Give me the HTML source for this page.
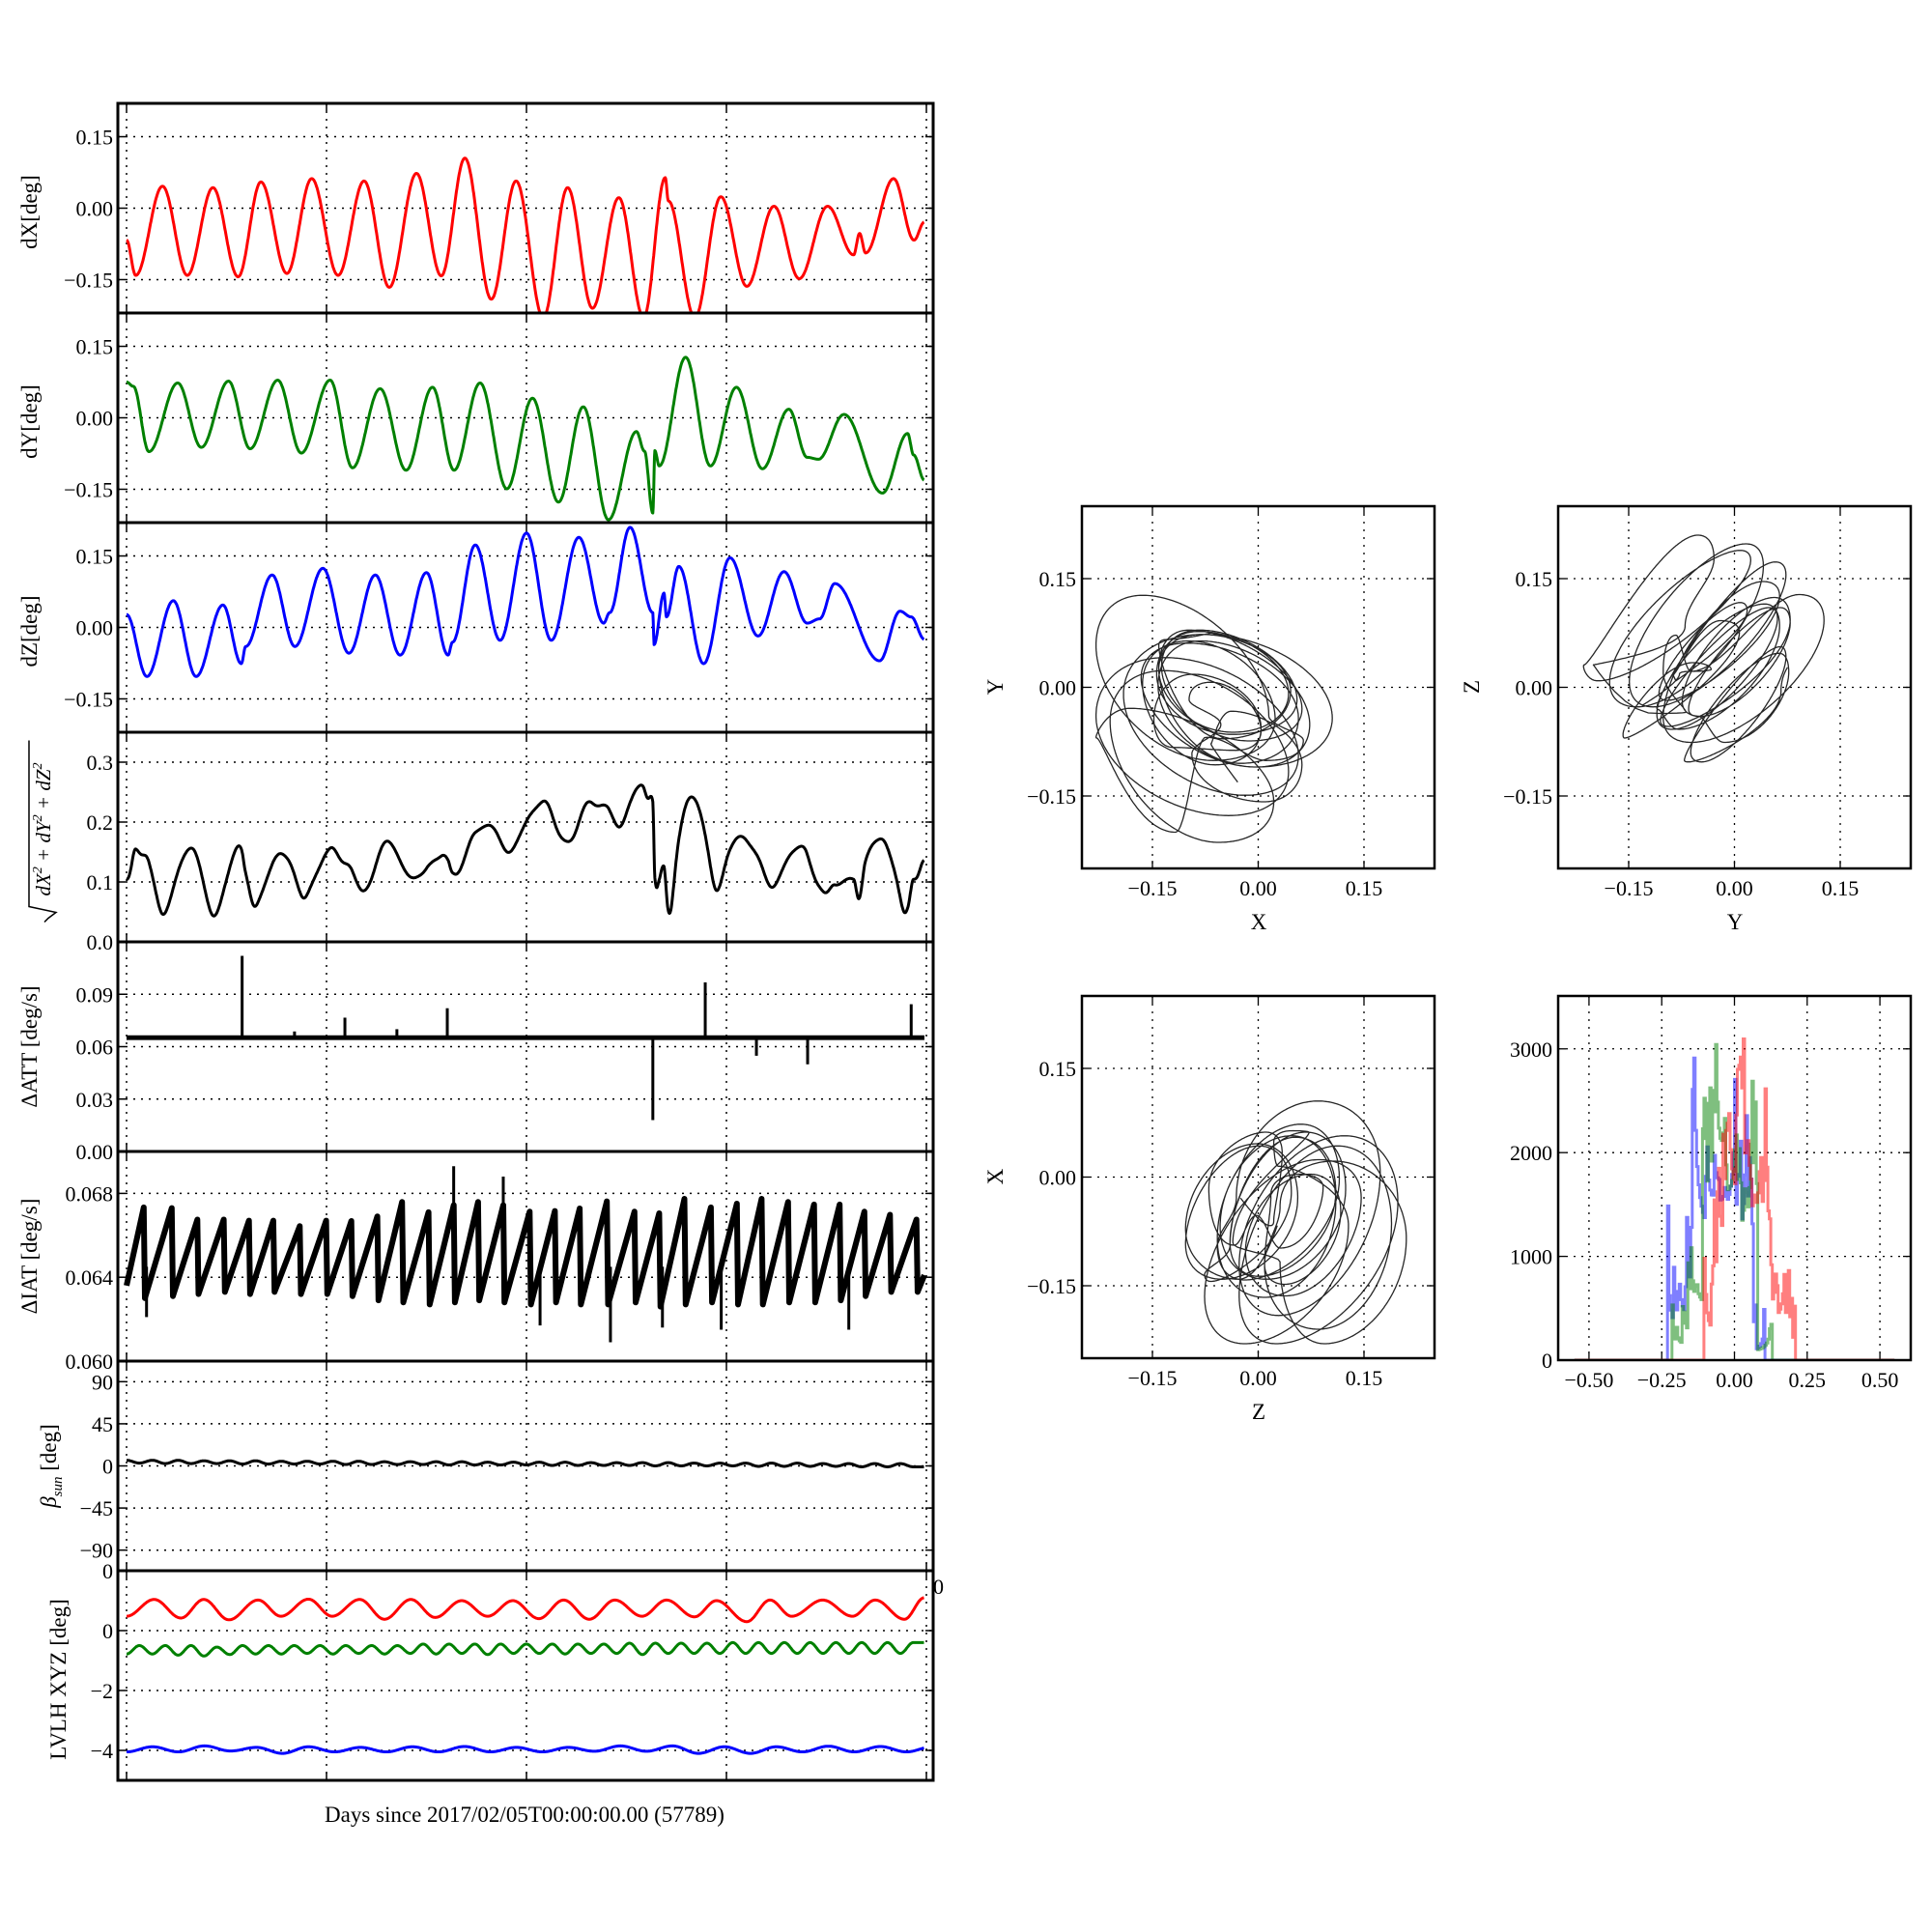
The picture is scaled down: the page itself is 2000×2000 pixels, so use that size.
<!DOCTYPE html>
<html><head><meta charset="utf-8"><title>Attitude diagnostics</title>
<style>
html,body{margin:0;padding:0;background:#fff;}
svg{display:block;font-family:"Liberation Serif","DejaVu Serif",serif;}
</style></head>
<body>
<svg id="fig" width="2000" height="2000" viewBox="0 0 2000 2000" xmlns="http://www.w3.org/2000/svg">
<rect x="0" y="0" width="2000" height="2000" fill="#fff"/>
<text x="543" y="1886" font-size="23" text-anchor="middle">Days since 2017/02/05T00:00:00.00 (57789)</text>
</svg>
<script>
// ---------------- DATA ----------------
const dxT=[0,0.23,0.9,1.52,2.16,2.79,3.36,4.01,4.63,5.29,5.94,6.57,7.25,7.87,8.46,9.12,9.74,10.42,11.03,11.65,12.31,12.93,13.47,13.55,14.21,14.86,15.51,16.19,16.82,17.53,18.18,18.33,18.48,19.18,19.69,19.95];
const dxV=[-0.067,-0.141,0.046,-0.141,0.043,-0.144,0.055,-0.137,0.062,-0.141,0.057,-0.166,0.073,-0.142,0.105,-0.191,0.057,-0.23,0.043,-0.21,0.022,-0.23,0.064,0.015,-0.23,0.024,-0.164,0.004,-0.148,0.004,-0.098,-0.053,-0.094,0.062,-0.067,-0.029];
const dyT=[0,0.17,0.56,1.28,1.87,2.55,3.09,3.78,4.37,5.09,5.65,6.34,6.99,7.65,8.19,8.84,9.51,10.15,10.8,11.42,12.05,12.75,12.95,13.16,13.21,13.32,13.98,14.6,15.25,15.9,16.56,17.02,17.3,17.94,18.9,19.53,19.68,19.95];
const dyV=[0.075,0.066,-0.071,0.073,-0.062,0.077,-0.065,0.079,-0.074,0.079,-0.105,0.061,-0.11,0.064,-0.11,0.073,-0.149,0.041,-0.177,0.023,-0.214,-0.029,-0.07,-0.2,-0.069,-0.101,0.127,-0.101,0.064,-0.107,0.018,-0.083,-0.087,0.007,-0.158,-0.033,-0.078,-0.131];
const dzT=[0,0.51,1.17,1.74,2.41,2.87,2.98,3.64,4.21,4.91,5.56,6.22,6.84,7.5,8.04,8.15,8.72,9.34,10.0,10.62,11.31,11.93,12.08,12.59,13.16,13.19,13.44,13.5,13.81,14.43,15.09,15.79,16.44,17.02,17.33,17.71,18.83,19.34,19.62,19.95];
const dzV=[0.027,-0.103,0.056,-0.103,0.047,-0.076,-0.04,0.11,-0.04,0.124,-0.054,0.11,-0.058,0.115,-0.058,-0.031,0.173,-0.027,0.198,-0.027,0.189,0.009,0.031,0.21,0.031,-0.036,0.072,0.022,0.128,-0.076,0.146,-0.018,0.117,0.009,0.018,0.092,-0.07,0.034,0.022,-0.025];
const attBase=[0.0638,0.0665];
const attSpikeT=[2.89,4.2,5.46,6.76,8.02,13.16,14.47,15.75,17.03,19.62];
const attSpikeV=[0.112,0.0687,0.0766,0.070,0.082,0.018,0.0968,0.0548,0.0499,0.0843];
const iatPeakT=[0.43,1.13,1.77,2.43,3.06,3.67,4.33,4.99,5.62,6.27,6.89,7.55,8.18,8.79,9.42,10.08,10.71,11.33,12.01,12.7,13.32,13.95,14.61,15.26,15.88,16.54,17.19,17.83,18.45,19.09,19.75];
const iatPeak=[0.06733,0.0673,0.06675,0.06675,0.0667,0.0667,0.06644,0.0667,0.06668,0.0669,0.06759,0.0671,0.06744,0.06759,0.06744,0.06713,0.06716,0.06728,0.06762,0.06713,0.06705,0.06774,0.06733,0.06751,0.06774,0.06759,0.06747,0.06747,0.06713,0.06698,0.06675];
const iatLow=[0.0636,0.0630,0.0631,0.0632,0.0633,0.0632,0.0633,0.0632,0.0632,0.0631,0.0629,0.0628,0.0627,0.0628,0.0629,0.0628,0.0627,0.0628,0.0627,0.0627,0.0628,0.0626,0.0627,0.0628,0.0627,0.0627,0.0628,0.0628,0.0629,0.0631,0.0633];
const iatSpikeT=[0.5,8.18,9.42,10.34,12.1,13.4,14.87,18.06];
const iatSpikeV=[0.0621,0.0693,0.0688,0.0617,0.0609,0.0616,0.0615,0.0615];
const betaPeriod=0.645;
const betaPeaks=[6,6,6,5.5,5.5,5.5,5,5,5,5,4.5,4.5,4.5,4.5,4,4,4,4,3.5,3.5,3.5,3.5,3,3,3,3,3,2.5,2.5,2.5,2.5];
const betaTroughs=[3,2.5,2.5,2.5,2,2,2,2,1.5,1.5,1.5,1.5,1,1,1,1,0.5,0.5,0.5,0.5,0,0,0,0,-0.5,-0.5,-0.5,-0.5,-1,-1,-1];
const lvxT=[0,0.69,1.36,1.93,2.56,3.29,3.86,4.55,5.14,5.83,6.45,7.11,7.72,8.38,9.03,9.66,10.31,10.93,11.57,12.21,12.89,13.5,14.2,14.75,15.51,16.09,16.63,17.41,18.15,18.72,19.45,19.95];
const lvxV=[0.48,1.04,0.42,1.04,0.36,1.02,0.48,1.05,0.48,1.04,0.38,1.04,0.44,1.0,0.48,1.0,0.40,1.02,0.38,1.02,0.48,1.02,0.46,1.0,0.30,1.02,0.48,1.02,0.48,1.02,0.38,1.1];
const lvyPeriod=0.645;
const lvyPeaks=[-0.5,-0.5,-0.5,-0.55,-0.5,-0.5,-0.5,-0.5,-0.5,-0.5,-0.5,-0.45,-0.45,-0.45,-0.45,-0.45,-0.45,-0.45,-0.45,-0.42,-0.42,-0.42,-0.42,-0.4,-0.4,-0.4,-0.4,-0.4,-0.4,-0.4,-0.4];
const lvyTroughs=[-0.78,-0.78,-0.82,-0.85,-0.8,-0.78,-0.78,-0.76,-0.78,-0.76,-0.78,-0.76,-0.78,-0.76,-0.8,-0.76,-0.76,-0.78,-0.76,-0.76,-0.8,-0.76,-0.76,-0.76,-0.76,-0.76,-0.76,-0.76,-0.76,-0.76,-0.76];
const lvzPeriod=1.3;
const lvzPeaks=[-3.88,-3.85,-3.9,-3.88,-3.9,-3.88,-3.87,-3.9,-3.9,-3.85,-3.85,-3.88,-3.88,-3.86,-3.87,-3.88];
const lvzTroughs=[-4.05,-4.05,-4.02,-4.1,-4.05,-4.05,-4.05,-4.05,-4.05,-4.03,-4.03,-4.1,-4.1,-4.05,-4.05,-4.05];
const dxTicks=[-0.15,0,0.15], dxTickLbl=["\u22120.15","0.00","0.15"];
const nTicks=[0,0.1,0.2,0.3], nTickLbl=["0.0","0.1","0.2","0.3"];
const attTicks=[0,0.03,0.06,0.09], attTickLbl=["0.00","0.03","0.06","0.09"];
const iatTicks=[0.060,0.064,0.068], iatTickLbl=["0.060","0.064","0.068"];
const betaTicks=[-90,-45,0,45,90], betaTickLbl=["\u221290","\u221245","0","45","90"];
const lvTicks=[-4,-2,0,2], lvTickLbl=["\u22124","\u22122","0","0"];
const dayTicks=[0,5,10,15,20];
const scTicks=[-0.15,0,0.15], scTickLbl=["\u22120.15","0.00","0.15"];
const hxTicks=[-0.5,-0.25,0,0.25,0.5], hxTickLbl=["\u22120.50","\u22120.25","0.00","0.25","0.50"];
const hyTicks=[0,1000,2000,3000], hyTickLbl=["0","1000","2000","3000"];
const histSamples=90000, histBinW=0.005, histRange=[-0.55,0.55];

// ---------------- RENDERING ----------------
const NS="http://www.w3.org/2000/svg";
const svg=document.getElementById('fig');
function mk(tag,attrs,parent){const e=document.createElementNS(NS,tag);for(const k in attrs)e.setAttribute(k,attrs[k]);(parent||svg).appendChild(e);return e;}
function lin(d0,d1,r0,r1){return v=>r0+(v-d0)/(d1-d0)*(r1-r0);}
function interp(ts,vs,t){
  if(t<=ts[0])return vs[0]; const n=ts.length; if(t>=ts[n-1])return vs[n-1];
  let i=0; while(ts[i+1]<t)i++;
  const f=(t-ts[i])/(ts[i+1]-ts[i]);
  return vs[i]+(vs[i+1]-vs[i])*(1-Math.cos(Math.PI*f))/2;
}
function periodic(period,peaks,troughs,startPeak){
  const ts=[],vs=[];
  for(let i=0;i<peaks.length;i++){
    const t1=i*period, t2=i*period+period/2;
    if(startPeak){ts.push(t1);vs.push(peaks[i]);ts.push(t2);vs.push(troughs[i]);}
    else{ts.push(t1);vs.push(troughs[i]);ts.push(t2);vs.push(peaks[i]);}
  }
  return [ts,vs];
}
const X0=122,X1=966,XD=lin(0,20,131,959);
const tops=[107,324,541,758,975,1192,1409,1626];const PH=217;
function panel(idx,ylim,ticks,lbls,name){
  const top=tops[idx],bot=top+PH;
  const g=mk('g',{});
  
  
  const Y=lin(ylim[0],ylim[1],bot,top);
  const clip=mk('clipPath',{id:'clip'+idx},g);
  mk('rect',{x:X0,y:top,width:X1-X0,height:PH},clip);
  dayTicks.forEach(d=>{const l=mk('line',{x1:XD(d),x2:XD(d),y1:top,y2:bot,stroke:'#000','stroke-width':1.5,'stroke-dasharray':'2,6'},g);
    
    mk('line',{x1:XD(d),x2:XD(d),y1:bot,y2:bot-8,stroke:'#000','stroke-width':1.5},g);
    mk('line',{x1:XD(d),x2:XD(d),y1:top,y2:top+8,stroke:'#000','stroke-width':1.5},g);});
  ticks.forEach((v,i)=>{const y=Y(v);
    const l=mk('line',{x1:X0,x2:X1,y1:y,y2:y,stroke:'#000','stroke-width':1.5,'stroke-dasharray':'2,6'},g);
    
    mk('line',{x1:X0,x2:X0+8,y1:y,y2:y,stroke:'#000','stroke-width':1.5},g);
    mk('line',{x1:X1,x2:X1-8,y1:y,y2:y,stroke:'#000','stroke-width':1.5},g);
    const t=mk('text',{x:117,y:y+8,'font-size':22,'text-anchor':'end'},g);t.textContent=lbls[i];
    });
  const data=mk('g',{'clip-path':'url(#clip'+idx+')'},g);
  return {g,Y,data,top,bot};
}
function pathFrom(ts,fn,X,Y){let d='';ts.forEach((t,i)=>{d+=(i?'L':'M')+X(t).toFixed(1)+','+Y(fn(t)).toFixed(1);});return d;}
const tS=[];for(let t=0;t<=19.95;t+=0.01)tS.push(+t.toFixed(3));
const fx=t=>interp(dxT,dxV,t), fy=t=>interp(dyT,dyV,t), fz=t=>interp(dzT,dzV,t);
function ylabel(x,y,txt,name){const t=mk('text',{x:0,y:0,'font-size':23,'text-anchor':'middle',transform:`translate(${x},${y}) rotate(-90)`});t.textContent=txt;
  return t;}

[[fx,'#f00',dxTicks,'dx','dX[deg]'],[fy,'#008000',dxTicks,'dy','dY[deg]'],[fz,'#00f',dxTicks,'dz','dZ[deg]']].forEach((c,i)=>{
  const p=panel(i,[-0.22,0.22],c[2],dxTickLbl,c[3]);
  const l=mk('path',{d:pathFrom(tS,c[0],XD,p.Y),fill:'none',stroke:c[1],'stroke-width':3,'stroke-linejoin':'round'},p.data);
  
  ylabel(38,p.top+PH/2+4,c[4],c[3]+'-axis-title');
});
{const p=panel(3,[0,0.35],nTicks,nTickLbl,'norm');
 const fn=t=>Math.sqrt(fx(t)**2+fy(t)**2+fz(t)**2);
 const l=mk('path',{d:pathFrom(tS,fn,XD,p.Y),fill:'none',stroke:'#000','stroke-width':3,'stroke-linejoin':'round'},p.data);
 
 const g=mk('g',{transform:`translate(52,${p.top+PH/2}) rotate(-90)`});
 
 const t=mk('text',{x:8,y:0,'font-size':21,'text-anchor':'middle','font-style':'italic'},g);
 t.innerHTML='dX<tspan dy="-9" font-size="14">2</tspan><tspan dy="9"> + dY</tspan><tspan dy="-9" font-size="14">2</tspan><tspan dy="9"> + dZ</tspan><tspan dy="-9" font-size="14">2</tspan>';
 mk('path',{d:'M-88,-6 L-84,-2 L-78,6 L-72,-22 L100,-22',fill:'none',stroke:'#000','stroke-width':1.5},g);}
{const p=panel(4,[0,0.12],attTicks,attTickLbl,'att');
 const b=mk('rect',{x:XD(0),y:p.Y(attBase[1]),width:XD(19.95)-XD(0),height:p.Y(attBase[0])-p.Y(attBase[1]),fill:'#000'},p.data);
 
 attSpikeT.forEach((t,i)=>{const s=mk('line',{x1:XD(t),x2:XD(t),y1:p.Y(0.065),y2:p.Y(attSpikeV[i]),stroke:'#000','stroke-width':3},p.data);
  });
 ylabel(38,p.top+PH/2,'\u0394ATT [deg/s]','att-axis-title');}
{const p=panel(5,[0.060,0.070],iatTicks,iatTickLbl,'iat');
 let d='M'+XD(0)+','+p.Y(iatLow[0]);
 iatPeakT.forEach((t,i)=>{d+='L'+XD(t).toFixed(1)+','+p.Y(iatPeak[i]).toFixed(1);
   const nl=i+1<iatLow.length?iatLow[i+1]:0.0633; d+='L'+XD(t+0.03).toFixed(1)+','+p.Y(nl).toFixed(1);});
 d+='L'+XD(19.95)+','+p.Y(0.0641);
 const l=mk('path',{d,fill:'none',stroke:'#000','stroke-width':6,'stroke-linejoin':'round'},p.data);
 
 iatSpikeT.forEach((t,i)=>{const s=mk('line',{x1:XD(t),x2:XD(t),y1:p.Y(0.0645),y2:p.Y(iatSpikeV[i]),stroke:'#000','stroke-width':3},p.data);
  });
 ylabel(38,p.top+PH/2,'\u0394IAT [deg/s]','iat-axis-title');}
{const p=panel(6,[-112,112],betaTicks,betaTickLbl,'beta');
 const [ts,vs]=periodic(betaPeriod,betaPeaks,betaTroughs,true);
 const l=mk('path',{d:pathFrom(tS,t=>interp(ts,vs,t),XD,p.Y),fill:'none',stroke:'#000','stroke-width':3},p.data);
 
 const t=mk('text',{x:0,y:0,'font-size':23,'text-anchor':'middle',transform:`translate(58,${p.top+PH/2}) rotate(-90)`});
 t.innerHTML='<tspan font-style="italic">\u03b2</tspan><tspan font-style="italic" font-size="15" dy="6">sun</tspan><tspan dy="-6"> [deg]</tspan>';
 }
{const p=panel(7,[-5,2],lvTicks,lvTickLbl,'lvlh');
 const l1=mk('path',{d:pathFrom(tS,t=>interp(lvxT,lvxV,t),XD,p.Y),fill:'none',stroke:'#f00','stroke-width':3},p.data);
 
 const [ty,vy]=periodic(lvyPeriod,lvyPeaks,lvyTroughs,false);
 const l2=mk('path',{d:pathFrom(tS,t=>interp(ty,vy,t),XD,p.Y),fill:'none',stroke:'#008000','stroke-width':3},p.data);
 
 const [tz,vz]=periodic(lvzPeriod,lvzPeaks,lvzTroughs,false);
 const l3=mk('path',{d:pathFrom(tS,t=>interp(tz,vz,t),XD,p.Y),fill:'none',stroke:'#00f','stroke-width':3},p.data);
 
 const r=mk('text',{x:966,y:1650,'font-size':22},svg);r.textContent='0';
 
 ylabel(68,p.top+PH/2+4,'LVLH XYZ [deg]','lvlh-axis-title');}
tops.forEach((t,i)=>{const r=mk('rect',{x:X0,y:t,width:X1-X0,height:PH,fill:'none',stroke:'#000','stroke-width':3});
 });

function box(x0,y0,x1,y1,xl,yl,xt,xtl,yt,ytl,name){
  const g=mk('g',{});
  const X=lin(xl[0],xl[1],x0,x1),Y=lin(yl[0],yl[1],y1,y0);
  const cid='c'+name;const cp=mk('clipPath',{id:cid},g);mk('rect',{x:x0,y:y0,width:x1-x0,height:y1-y0},cp);
  xt.forEach((v,i)=>{const x=X(v);mk('line',{x1:x,x2:x,y1:y0,y2:y1,stroke:'#000','stroke-width':1.3,'stroke-dasharray':'2,6'},g);
    mk('line',{x1:x,x2:x,y1:y1,y2:y1-8,stroke:'#000','stroke-width':1.3},g);mk('line',{x1:x,x2:x,y1:y0,y2:y0+8,stroke:'#000','stroke-width':1.3},g);
    const t=mk('text',{x,y:y1+28,'font-size':22,'text-anchor':'middle'},g);t.textContent=xtl[i];
    });
  yt.forEach((v,i)=>{const y=Y(v);mk('line',{x1:x0,x2:x1,y1:y,y2:y,stroke:'#000','stroke-width':1.3,'stroke-dasharray':'2,6'},g);
    mk('line',{x1:x0,x2:x0+8,y1:y,y2:y,stroke:'#000','stroke-width':1.3},g);mk('line',{x1:x1,x2:x1-8,y1:y,y2:y,stroke:'#000','stroke-width':1.3},g);
    const t=mk('text',{x:x0-6,y:y+8,'font-size':22,'text-anchor':'end'},g);t.textContent=ytl[i];
    });
  const data=mk('g',{'clip-path':`url(#${cid})`},g);
  mk('rect',{x:x0,y:y0,width:x1-x0,height:y1-y0,fill:'none',stroke:'#000','stroke-width':2.5},g);
  return {X,Y,data,g};
}
const tD=[];for(let t=0;t<=19.95;t+=0.004)tD.push(t);
function scatter(x0,y0,fa,fb,xlab,ylab,name){
  const b=box(x0,y0,x0+365,y0+375,[-0.25,0.25],[-0.25,0.25],scTicks,scTickLbl,scTicks,scTickLbl,name);
  let d='';tD.forEach((t,i)=>{d+=(i?'L':'M')+b.X(fa(t)).toFixed(1)+','+b.Y(fb(t)).toFixed(1);});
  const p=mk('path',{d,fill:'none',stroke:'#000','stroke-width':1.3,'stroke-opacity':0.85},b.data);
  
  const tx=mk('text',{x:x0+183,y:y0+438,'font-size':23,'text-anchor':'middle'},b.g);tx.textContent=xlab;
  
  const ty=mk('text',{x:0,y:0,'font-size':23,'text-anchor':'middle',transform:`translate(${x0-82},${y0+187}) rotate(-90)`},b.g);ty.textContent=ylab;
  
}
scatter(1120,524,fx,fy,'X','Y','xy-scatter');
scatter(1613,524,fy,fz,'Y','Z','yz-scatter');
scatter(1120,1031,fz,fx,'Z','X','zx-scatter');
{const b=box(1613,1031,1978,1408,[-0.606,0.606],[0,3510],hxTicks,hxTickLbl,hyTicks,hyTickLbl,'histogram');
 const nb=Math.round((histRange[1]-histRange[0])/histBinW);
 [[fx,'#00f','hist-x'],[fy,'#008000','hist-y'],[fz,'#f00','hist-z']].forEach(c=>{
  const cnt=new Array(nb).fill(0);
  for(let k=0;k<histSamples;k++){const v=c[0](k*19.95/histSamples);const bi=Math.floor((v-histRange[0])/histBinW);if(bi>=0&&bi<nb)cnt[bi]++;}
  let d='M'+b.X(histRange[0]).toFixed(1)+','+b.Y(0);
  for(let i=0;i<nb;i++){const xa=b.X(histRange[0]+i*histBinW),xb=b.X(histRange[0]+(i+1)*histBinW),y=b.Y(cnt[i]);d+='L'+xa.toFixed(1)+','+y.toFixed(1)+'L'+xb.toFixed(1)+','+y.toFixed(1);}
  d+='L'+b.X(histRange[1]).toFixed(1)+','+b.Y(0);
  const p=mk('path',{d,fill:'none',stroke:c[1],'stroke-width':3,'stroke-opacity':0.5},b.data);
  
 });}
</script>
</body></html>
